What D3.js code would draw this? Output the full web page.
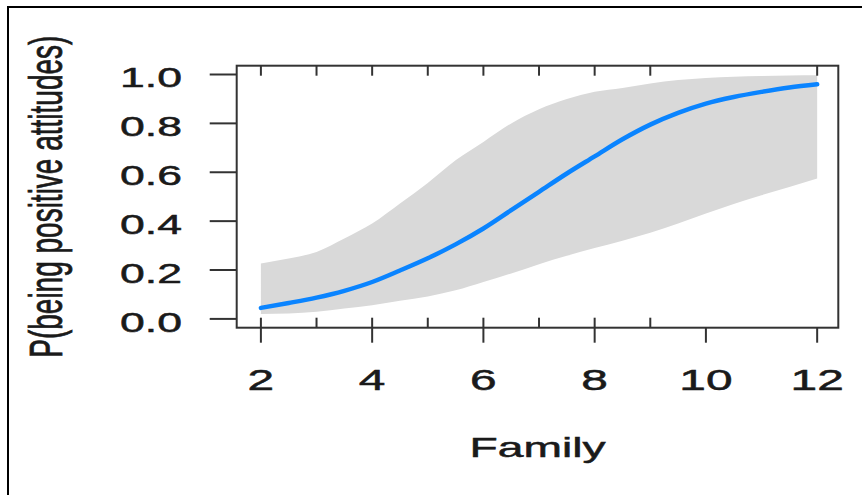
<!DOCTYPE html>
<html>
<head>
<meta charset="utf-8">
<script src="https://cdn.jsdelivr.net/npm/d3@7/dist/d3.min.js"></script>
<style>
	body{margin:0;background:#fff;}
	text{font-family:"Liberation Sans",Arial,sans-serif;fill:#1a1a1a;stroke:#1a1a1a;stroke-width:0.5px;}
</style>
</head>
<body>
<script>
//values
var family=[2,2.5,3,3.5,4,4.5,5,5.5,6,6.5,7,7.5,8,8.5,9,9.5,10,10.5,11,11.5,12];
var fit=[0.045,0.065,0.087,0.115,0.151,0.198,0.248,0.305,0.370,0.445,0.520,0.595,0.665,0.735,0.795,0.843,0.881,0.908,0.929,0.947,0.960];
var upper=[0.227,0.247,0.274,0.329,0.390,0.472,0.556,0.649,0.724,0.800,0.858,0.900,0.929,0.945,0.963,0.977,0.986,0.991,0.994,0.996,0.997];
var lower=[0.020,0.022,0.029,0.043,0.056,0.074,0.092,0.117,0.151,0.186,0.224,0.258,0.290,0.320,0.352,0.390,0.431,0.470,0.506,0.540,0.574];
var xTicks=[2,4,6,8,10,12];
var yTicks=[0,0.2,0.4,0.6,0.8,1.0];
var rugBottom=[2,3,4,5,6,7,8,9];
var rugTop=[2,3,4,5,6,7,8,9,12];

//the source image is stretched sideways, so text is too
var stretch=1.65;

(function(){
	var width=862,
		height=495,
		left=236.7,
		right=838.3,
		top=65.7,
		bottom=327.7;

	var svg=d3.select("body")
		.append("svg")
		.attr("width",width)
		.attr("height",height);

	//outer frame (right and bottom run off the picture)
	svg.append("path")
		.attr("d","M8,"+(height+2)+"V7H"+(width+2))
		.attr("fill","none")
		.attr("stroke","#000")
		.attr("stroke-width",2);

	var x=d3.scaleLinear()
		.domain([1.565,12.38])
		.range([left,right]);
	var y=d3.scaleLinear()
		.domain([-0.036,1.036])
		.range([bottom,top]);

	var data=family.map(function(f,i){
		return {f:f,fit:fit[i],lo:lower[i],hi:upper[i]};
	});

	//confidence band
	svg.append("path")
		.datum(data)
		.attr("fill","#d9d9d9")
		.attr("d",d3.area()
			.x(function(d){return x(d.f);})
			.y0(function(d){return y(d.lo);})
			.y1(function(d){return y(d.hi);})
			.curve(d3.curveMonotoneX));

	//fitted line
	svg.append("path")
		.datum(data)
		.attr("fill","none")
		.attr("stroke","#0a84ff")
		.attr("stroke-width",4.5)
		.attr("stroke-linecap","round")
		.attr("d",d3.line()
			.x(function(d){return x(d.f);})
			.y(function(d){return y(d.fit);})
			.curve(d3.curveMonotoneX));

	//plot box
	svg.append("rect")
		.attr("x",left)
		.attr("y",top)
		.attr("width",right-left)
		.attr("height",bottom-top)
		.attr("fill","none")
		.attr("stroke","#333")
		.attr("stroke-width",2);

	var tickColor="#333";

	//y ticks and labels
	svg.selectAll(".yTick")
		.data(yTicks)
		.enter()
		.append("line")
		.attr("x1",left-27)
		.attr("x2",left)
		.attr("y1",function(d){return y(d);})
		.attr("y2",function(d){return y(d);})
		.attr("stroke",tickColor)
		.attr("stroke-width",2);

	svg.selectAll(".yLabel")
		.data(yTicks)
		.enter()
		.append("text")
		.attr("text-anchor","end")
		.attr("font-size",27)
		.attr("transform",function(d){
			return "translate(182,"+(y(d)+13)+") scale("+stretch+",1)";
		})
		.text(function(d){return d.toFixed(1);});

	//x ticks and labels
	svg.selectAll(".xTick")
		.data(xTicks)
		.enter()
		.append("line")
		.attr("x1",function(d){return x(d);})
		.attr("x2",function(d){return x(d);})
		.attr("y1",bottom)
		.attr("y2",bottom+15)
		.attr("stroke",tickColor)
		.attr("stroke-width",2);

	svg.selectAll(".xLabel")
		.data(xTicks)
		.enter()
		.append("text")
		.attr("text-anchor","middle")
		.attr("font-size",29)
		.attr("transform",function(d){
			return "translate("+x(d)+",390) scale("+stretch+",1)";
		})
		.text(function(d){return d;});

	//rug ticks inside the box
	svg.selectAll(".rugB")
		.data(rugBottom)
		.enter()
		.append("line")
		.attr("x1",function(d){return x(d);})
		.attr("x2",function(d){return x(d);})
		.attr("y1",bottom-10)
		.attr("y2",bottom)
		.attr("stroke",tickColor)
		.attr("stroke-width",2);

	svg.selectAll(".rugT")
		.data(rugTop)
		.enter()
		.append("line")
		.attr("x1",function(d){return x(d);})
		.attr("x2",function(d){return x(d);})
		.attr("y1",top)
		.attr("y2",top+10)
		.attr("stroke",tickColor)
		.attr("stroke-width",2);

	//axis titles
	svg.append("text")
		.attr("text-anchor","middle")
		.attr("font-size",28)
		.attr("transform","translate("+((left+right)/2)+",457) scale("+stretch+",1)")
		.text("Family");

	svg.append("text")
		.attr("text-anchor","middle")
		.attr("font-size",28)
		.attr("transform","translate(62,"+((top+bottom)/2)+") scale("+stretch+",1) rotate(-90)")
		.text("P(being positive attitudes)");
})();
</script>
</body>
</html>
